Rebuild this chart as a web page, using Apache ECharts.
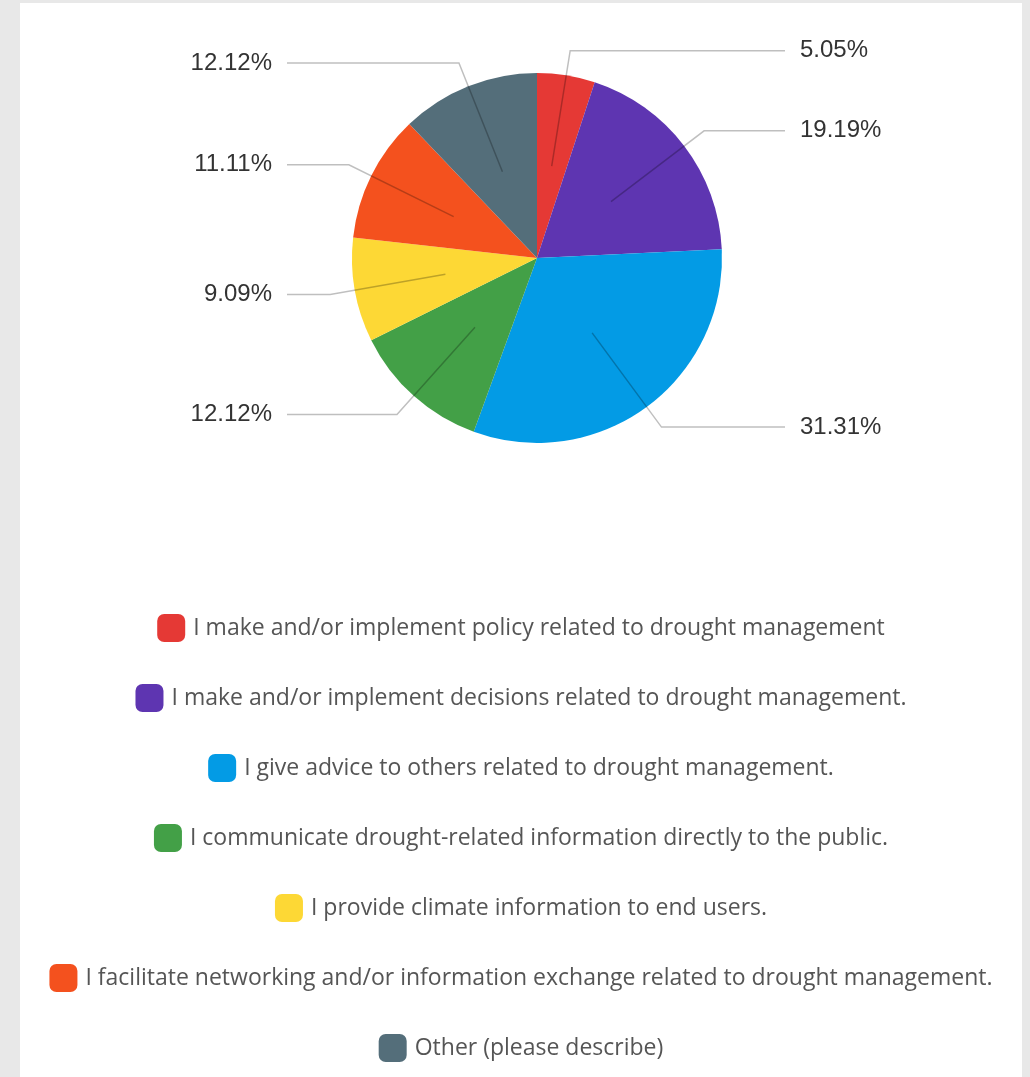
<!DOCTYPE html>
<html>
<head>
<meta charset="utf-8">
<script src="https://cdn.jsdelivr.net/npm/echarts@6/dist/echarts.min.js"></script>
<style>
  html, body { margin: 0; padding: 0; background: #e8e8e8; }
  #chart { position: absolute; left: 20px; top: 3px; width: 1002px; height: 1074px; background: #fff; }
</style>
</head>
<body>
<div id="chart"></div>
<script>
// answer categories, in the order the slices run clockwise from 12 o'clock
const categories = [
  'I make and/or implement policy related to drought management',
  'I make and/or implement decisions related to drought management.',
  'I give advice to others related to drought management.',
  'I communicate drought-related information directly to the public.',
  'I provide climate information to end users.',
  'I facilitate networking and/or information exchange related to drought management.',
  'Other (please describe)'
];
// responses per category (99 in total)
const counts = [5, 19, 31, 12, 9, 11, 12];
const colors = ['#e53935', '#5e35b1', '#039be5', '#43a047', '#fdd835', '#f4511e', '#546e7a'];

const total = counts.reduce((a, b) => a + b, 0);
const CX = 517, CY = 255, R = 185;

let chart = echarts.init(document.getElementById('chart'));

// one centred legend per row
const legends = categories.map((name, i) => ({
  data: [name],
  left: 'center',
  top: 611 + i * 70,
  padding: 0,
  icon: 'roundRect',
  itemWidth: 28,
  itemHeight: 28,
  selectedMode: false,
  textStyle: { fontFamily: 'Open Sans', fontSize: 23, color: '#555', padding: [0, 0, 0, 3] }
}));

let option = {
  animation: false,
  legend: legends,
  series: [
    {
      type: 'pie',
      z: 1,
      center: [CX, CY],
      radius: [0, R],
      startAngle: 90,
      clockwise: true,
      label: { show: false },
      labelLine: { show: false },
      silent: true,
      data: categories.map((name, i) => ({ name: name, value: counts[i], itemStyle: { color: colors[i] } }))
    },
    {
      // invisible inner pie, only used to hang the labels and leader lines
      type: 'pie',
      z: 5,
      zlevel: 1,
      center: [CX, CY],
      radius: [0, 93],
      startAngle: 90,
      clockwise: true,
      silent: true,
      itemStyle: { color: 'rgba(0,0,0,0)' },
      label: {
        show: true,
        formatter: p => (p.value / total * 100).toFixed(2) + '%',
        fontFamily: 'Liberation Sans',
        fontSize: 24,
        color: '#333'
      },
      labelLine: {
        show: true,
        length: 117,
        length2: 10,
        smooth: false,
        lineStyle: { color: 'rgba(0,0,0,0.25)', width: 1.5 }
      },
      labelLayout: function (p) {
        const pts = p.labelLinePoints;
        if (!pts) return {};
        const right = pts[2][0] > pts[1][0];
        const end = right ? CX + 248 : CX - 250;
        pts[2][0] = end;
        return {
          labelLinePoints: pts,
          x: right ? end + 15 : end - 15,
          y: pts[2][1],
          align: right ? 'left' : 'right',
          verticalAlign: 'middle'
        };
      },
      data: categories.map((name, i) => ({ name: name, value: counts[i] }))
    }
  ]
};

chart.setOption(option);
</script>
</body>
</html>
